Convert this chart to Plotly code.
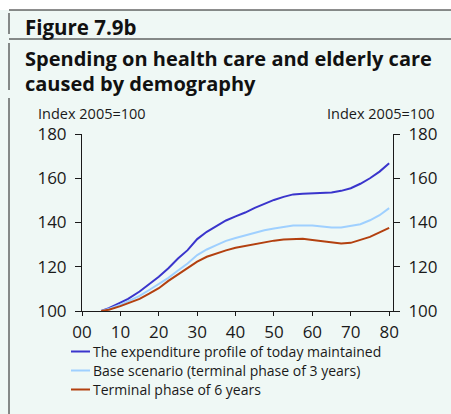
import plotly.graph_objects as go

years = [5, 7, 10, 12, 15, 17.5, 20, 22.5, 25, 27.5, 30, 32.5, 35, 37.5, 40, 42.5,
         45, 47.5, 50, 52.5, 55, 57.5, 60, 62.5, 65, 67.5, 70, 72.5, 75, 77.5, 80]
today_profile = [100, 101.3, 103.8, 105.5, 108.8, 112, 115.5, 119.3, 123.7, 127.5, 132.5,
                 135.8, 138.5, 140.9, 142.8, 144.5, 146.6, 148.4, 150.2, 151.6, 152.7,
                 153, 153.2, 153.4, 153.6, 154.3, 155.5, 157.5, 160, 163, 166.8]
base_scenario = [100, 100.9, 102.8, 104.3, 106.8, 109.5, 112.2, 115, 118.3, 121.5, 125.3,
                 127.8, 129.8, 131.7, 133, 134.2, 135.3, 136.5, 137.3, 138, 138.6,
                 138.6, 138.6, 138.2, 137.7, 137.7, 138.4, 139.2, 141, 143.3, 146.5]
terminal_6 = [100, 100.6, 102.2, 103.4, 105.5, 107.8, 110.3, 113.6, 116.6, 119.4, 122.3,
              124.5, 126, 127.4, 128.6, 129.4, 130.3, 131.2, 131.8, 132.3, 132.6,
              132.6, 132.1, 131.6, 130.8, 130.5, 130.8, 132, 133.5, 135.5, 137.6]
series_names = ["The expenditure profile of today maintained",
                "Base scenario (terminal phase of 3 years)",
                "Terminal phase of 6 years"]
x_ticks = [0, 10, 20, 30, 40, 50, 60, 70, 80]
x_labels = ["00", "10", "20", "30", "40", "50", "60", "70", "80"]
y_ticks = [100, 120, 140, 160, 180]
axis_title = "Index 2005=100"
fig_label = "Figure 7.9b"
title_lines = ["Spending on health care and elderly care", "caused by demography"]

W, H = 451, 414
L, R, T, B = 82, 393, 134, 311
FONT = "Open Sans"
MINT = "#eff8f5"
INK = "#1a1a1a"

def px(x):
    return (x - L) / (R - L)

def py(y):
    return (B - y) / (B - T)

fig = go.Figure()
colors = ["#3a35cc", "#9fd0ff", "#b3400f"]
for name, vals, c in zip(series_names, [today_profile, base_scenario, terminal_6], colors):
    fig.add_trace(go.Scatter(x=years, y=vals, mode="lines", name=name,
                             line=dict(color=c, width=2), showlegend=False))
# invisible trace to activate right axis
fig.add_trace(go.Scatter(x=[years[0]], y=[100], yaxis="y2", showlegend=False,
                         mode="markers", marker=dict(opacity=0), hoverinfo="skip"))

axis_font = dict(family=FONT, size=17, color=INK)
common = dict(showgrid=False, zeroline=False, showline=True, linecolor=INK, linewidth=1,
              ticks="outside", tickcolor=INK, tickfont=axis_font)
fig.update_layout(
    width=W, height=H,
    margin=dict(l=L, r=W - R, t=T, b=H - B, pad=0, autoexpand=False),
    paper_bgcolor=MINT, plot_bgcolor=MINT,
    showlegend=False,
    xaxis=dict(range=[0, 81], tickvals=x_ticks, ticktext=x_labels, ticklen=4,
               ticklabelstandoff=2, **common),
    yaxis=dict(range=[100, 180], tickvals=y_ticks, ticklen=6, ticklabelstandoff=5,
               **common),
    yaxis2=dict(range=[100, 180], tickvals=y_ticks, overlaying="y", side="right",
                ticklen=6, ticklabelstandoff=5, **common),
)

# frame decorations
shapes = [
    dict(type="rect", x0=px(0), x1=px(W), y0=py(0), y1=py(10),
         fillcolor="white", line=dict(width=0), layer="below"),
    dict(type="line", x0=px(9), x1=px(W), y0=py(10), y1=py(10),
         line=dict(color=INK, width=1)),
    dict(type="line", x0=px(9), x1=px(W), y0=py(39), y1=py(39),
         line=dict(color=INK, width=1)),
    dict(type="line", x0=px(9), x1=px(9), y0=py(13), y1=py(34),
         line=dict(color=INK, width=1)),
    dict(type="line", x0=px(9), x1=px(9), y0=py(43), y1=py(90),
         line=dict(color=INK, width=1)),
    dict(type="line", x0=px(9), x1=px(9), y0=py(98), y1=py(H),
         line=dict(color=INK, width=1)),
]
# legend (line samples)
legend_rows = [351.5, 370.5, 389.5]
for c, yy in zip(colors, legend_rows):
    shapes.append(dict(type="line", x0=px(71), x1=px(90), y0=py(yy), y1=py(yy),
                       line=dict(color=c, width=2)))
for s in shapes:
    s.update(xref="paper", yref="paper")
fig.update_layout(shapes=shapes)

title_font = dict(family=FONT, size=20, color="#111111", weight="bold")
ann = [
    dict(text=fig_label, x=px(23), y=py(27), xanchor="left", yanchor="middle",
         font=dict(family=FONT, size=20.5, color="#111111", weight="bold")),
    dict(text=title_lines[0], x=px(23), y=py(58.5), xanchor="left", yanchor="middle",
         font=title_font),
    dict(text=title_lines[1], x=px(23), y=py(84), xanchor="left", yanchor="middle",
         font=title_font),
    dict(text=axis_title, x=px(36), y=py(113), xanchor="left", yanchor="middle",
         font=dict(family=FONT, size=14.5, color=INK)),
    dict(text=axis_title, x=px(437), y=py(113), xanchor="right", yanchor="middle",
         font=dict(family=FONT, size=14.5, color=INK)),
]
for name, yy in zip(series_names, legend_rows):
    ann.append(dict(text=name, x=px(91), y=py(yy), xanchor="left", yanchor="middle",
                    font=dict(family=FONT, size=14, color=INK)))
for a in ann:
    a.update(xref="paper", yref="paper", showarrow=False)
fig.update_layout(annotations=ann)

fig.write_html("out.html", config={"displayModeBar": False},
               post_script="document.body.style.margin='0';document.body.style.background='%s';" % MINT)
